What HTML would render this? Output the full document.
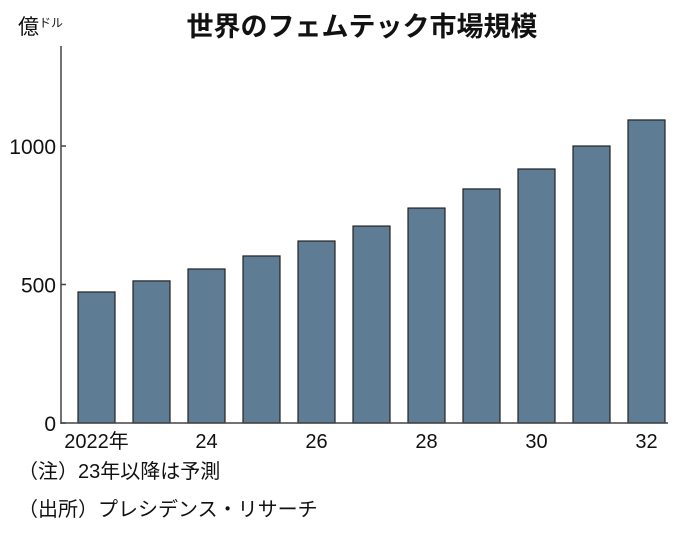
<!DOCTYPE html>
<html><head><meta charset="utf-8"><style>
body{margin:0;background:#fff}
svg text{font-family:"Liberation Sans","Noto Sans CJK JP",sans-serif;fill:#111}
</style></head><body>
<svg id="c" width="696" height="532" xmlns="http://www.w3.org/2000/svg">
<text x="362" y="36" font-size="27" font-weight="bold" text-anchor="middle">世界のフェムテック市場規模</text>
<text x="18" y="34" font-size="21">億<tspan font-size="12" dy="-7">ドル</tspan></text>
<g id="bars"></g>
<g id="axes"></g>
<text x="18" y="478" font-size="20">（注）23年以降は予測</text>
<text x="18" y="516" font-size="20">（出所）プレシデンス・リサーチ</text>
</svg>
<script>
const years=["2022年","23","24","25","26","27","28","29","30","31","32"];
const values=[473,513,556,603,657,711,776,845,917,1000,1094];
const yTicks=[0,500,1000];
const xLabelShown=[true,false,true,false,true,false,true,false,true,false,true];
const NS="http://www.w3.org/2000/svg";
const y0=423, pxPer=138.5/500, xAxis=61;
const yScale=v=>y0-v*pxPer;
const xScale=i=>78+i*55;
const bw=37;
const bars=document.getElementById('bars'),axes=document.getElementById('axes');
function mk(tag,attrs,parent){const e=document.createElementNS(NS,tag);for(const k in attrs)e.setAttribute(k,attrs[k]);parent.appendChild(e);return e;}
values.forEach((v,i)=>{
 const r=mk('rect',{x:xScale(i),y:yScale(v),width:bw,height:y0-yScale(v),fill:'#5f7c95',stroke:'#222','stroke-width':1.2},bars);
 
 
 if(xLabelShown[i]){
  const t=mk('text',{x:xScale(i)+bw/2,y:448,'font-size':20,'text-anchor':'middle'},axes);
  t.textContent=years[i];
  
  
 }
});
const ya=mk('line',{x1:xAxis,y1:46,x2:xAxis,y2:y0+1,stroke:'#444','stroke-width':1.5},axes);


const xa=mk('line',{x1:xAxis,y1:y0,x2:668,y2:y0,stroke:'#444','stroke-width':1.5},axes);


yTicks.forEach(v=>{
 const l=mk('line',{x1:xAxis,y1:yScale(v),x2:xAxis+5,y2:yScale(v),stroke:'#444','stroke-width':1.5},axes);
 
 
 const t=mk('text',{x:56,y:yScale(v)+8,'font-size':21,'text-anchor':'end'},axes);
 t.textContent=v;
 
 
});
</script>
</body></html>
